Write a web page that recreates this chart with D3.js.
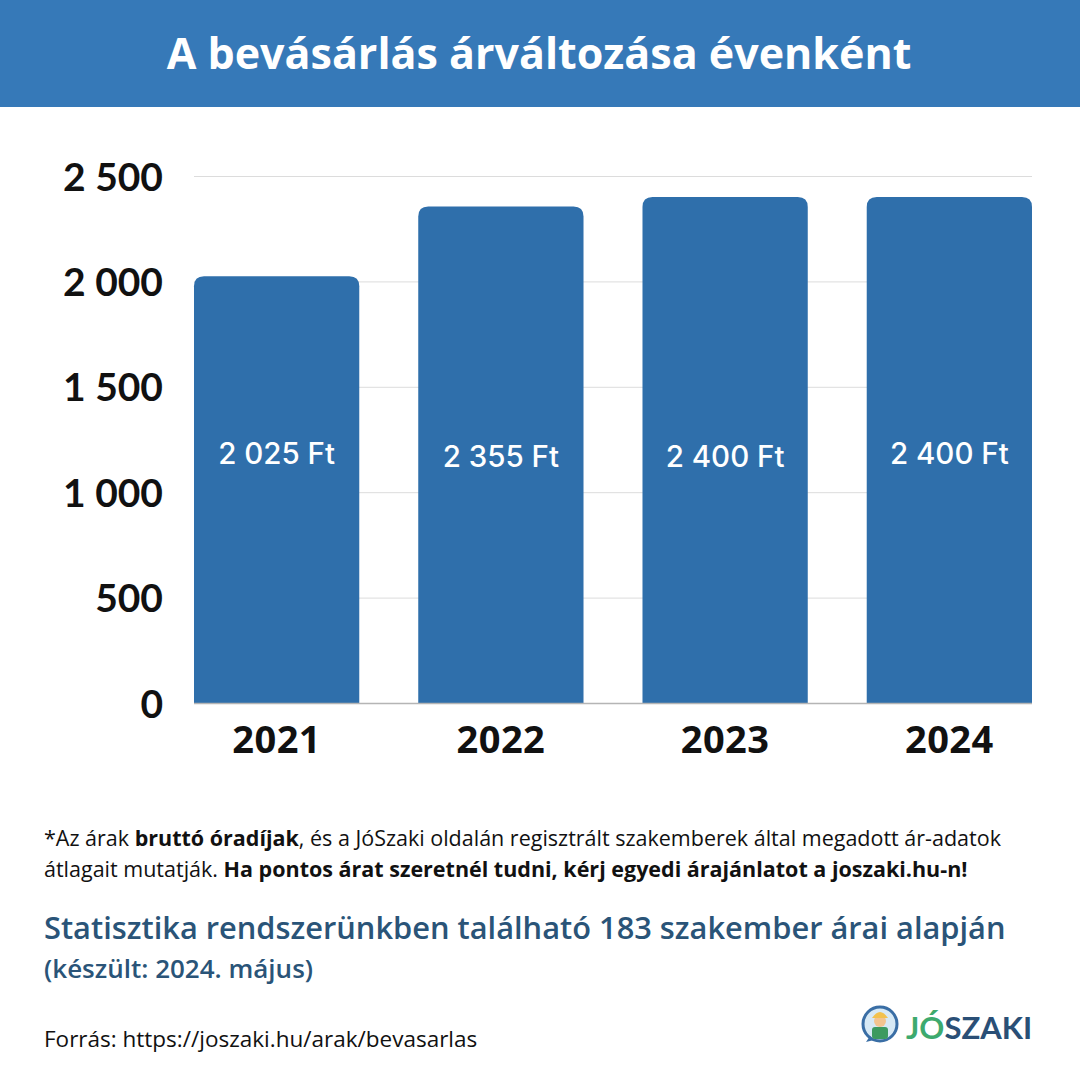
<!DOCTYPE html>
<html><head><meta charset="utf-8">
<script src="https://cdn.jsdelivr.net/npm/d3@7"></script>
<style>
html,body{margin:0;padding:0;background:#fff;}
svg{display:block;}
</style></head>
<body>
<svg id="chart" width="1080" height="1080"></svg>
<script>
const categories = ["2021","2022","2023","2024"];
const values = [2025, 2355, 2400, 2400];
const valueLabels = ["2 025 Ft","2 355 Ft","2 400 Ft","2 400 Ft"];
const tickValues = [0, 500, 1000, 1500, 2000, 2500];
const tickLabels = ["0","500","1 000","1 500","2 000","2 500"];
const labelYOffsets = [0, 3, 3, 0];

const svg = d3.select("#chart");
const blue = "#3679b8";
const barColor = "#2f6fab";
const OS = "'Open Sans', sans-serif";

// header
svg.append("rect").attr("x",0).attr("y",0).attr("width",1080).attr("height",107).attr("fill",blue);
svg.append("text").attr("x",539).attr("y",69).attr("text-anchor","middle")
  .attr("fill","#fff").attr("font-family",OS).attr("font-weight",700)
  .attr("font-size",43)
  .text("A bevásárlás árváltozása évenként");

const x = d3.scaleBand().domain(categories).range([194,1032]).paddingInner(0.263).paddingOuter(0);
const y = d3.scaleLinear().domain([0,2500]).range([703,176]);

// gridlines
const grid = svg.append("g").attr("transform","translate(194,0)")
  .call(d3.axisLeft(y).tickValues(tickValues).tickSize(-(1032-194)).tickFormat(""));
grid.select(".domain").remove();
grid.selectAll(".tick line").attr("stroke","#dcdcdc").attr("stroke-width",1);

// y tick labels
const yAxis = svg.append("g").attr("transform","translate(163,0)")
  .call(d3.axisLeft(y).tickValues(tickValues).tickSize(0).tickPadding(0).tickFormat((d,i)=>tickLabels[i]));
yAxis.select(".domain").remove();
yAxis.selectAll("text").attr("font-family","Lato, sans-serif").attr("font-weight",700)
  .attr("font-size",39).attr("fill","#111").attr("dy","0.36em");

// bars with rounded top corners
const r = 10;
function barPath(x0, w, yTop, yBot){
  return `M${x0},${yBot} L${x0},${yTop+r} Q${x0},${yTop} ${x0+r},${yTop} L${x0+w-r},${yTop} Q${x0+w},${yTop} ${x0+w},${yTop+r} L${x0+w},${yBot} Z`;
}
svg.append("g").selectAll("path").data(values).join("path")
  .attr("d",(d,i)=>barPath(x(categories[i]), x.bandwidth(), y(d), y(0)))
  .attr("fill",barColor);

// baseline
svg.append("line").attr("x1",194).attr("x2",1032).attr("y1",703.5).attr("y2",703.5)
  .attr("stroke","#b5b5b5").attr("stroke-width",1.5);

// value labels
svg.append("g").selectAll("text").data(values).join("text")
  .attr("x",(d,i)=>x(categories[i])+x.bandwidth()/2)
  .attr("y",(d,i)=>464+labelYOffsets[i])
  .attr("text-anchor","middle").attr("fill","#fff")
  .attr("font-family","Inter, sans-serif").attr("font-weight",500).attr("font-size",29.5)
  .text((d,i)=>valueLabels[i]);

// x axis labels
const xAxis = svg.append("g").attr("transform","translate(0,703)")
  .call(d3.axisBottom(x).tickSize(0).tickPadding(0));
xAxis.select(".domain").remove();
xAxis.selectAll("text").attr("font-family",OS).attr("font-weight",700)
  .attr("font-size",38).attr("fill","#111").attr("dy","0").attr("y",50)
  .attr("letter-spacing","0.5");

// footnote
const foot = svg.append("g").attr("font-family",OS).attr("font-size",21.5).attr("fill","#111");
const t1 = foot.append("text").attr("x",44).attr("y",846);
t1.append("tspan").text("*Az árak ");
t1.append("tspan").attr("font-weight",700).text("bruttó óradíjak");
t1.append("tspan").text(", és a JóSzaki oldalán regisztrált szakemberek által megadott ár-adatok");
const t2 = foot.append("text").attr("x",44).attr("y",877);
t2.append("tspan").text("átlagait mutatják. ");
t2.append("tspan").attr("font-weight",700).text("Ha pontos árat szeretnél tudni, kérj egyedi árajánlatot a joszaki.hu-n!");

svg.append("text").attr("x",44).attr("y",939).attr("font-family",OS)
  .attr("font-weight",600).attr("font-size",30.8).attr("fill","#2a5478")
  .text("Statisztika rendszerünkben található 183 szakember árai alapján");
svg.append("text").attr("x",44).attr("y",978).attr("font-family",OS)
  .attr("font-weight",600).attr("font-size",26).attr("fill","#2a5478")
  .text("(készült: 2024. május)");
svg.append("text").attr("x",44).attr("y",1047).attr("font-family",OS)
  .attr("font-size",22.5).attr("fill","#111")
  .text("Forrás: https://joszaki.hu/arak/bevasarlas");

// logo
const logo = svg.append("g");
logo.append("circle").attr("cx",880).attr("cy",1024).attr("r",17).attr("fill","#d7e9f5").attr("stroke","#3a6ea5").attr("stroke-width",3);
logo.append("path").attr("d","M866,1042 L870,1036 L874,1040 Z").attr("fill","#3a6ea5");
logo.append("rect").attr("x",872).attr("y",1027).attr("width",16).attr("height",12).attr("rx",3).attr("fill","#3c9a5f");
logo.append("circle").attr("cx",880).attr("cy",1021).attr("r",6).attr("fill","#f3c48f");
logo.append("path").attr("d","M872,1018 Q880,1006 888,1018 Z").attr("fill","#f2c14e");
const lt = logo.append("text").attr("x",906).attr("y",1039).attr("font-family","Lato, 'Open Sans', sans-serif")
  .attr("font-weight",700).attr("font-size",31);
lt.append("tspan").attr("fill","#3daa6e").text("JÓ");
lt.append("tspan").attr("fill","#2a4f76").text("SZAKI");
</script>
</body></html>
